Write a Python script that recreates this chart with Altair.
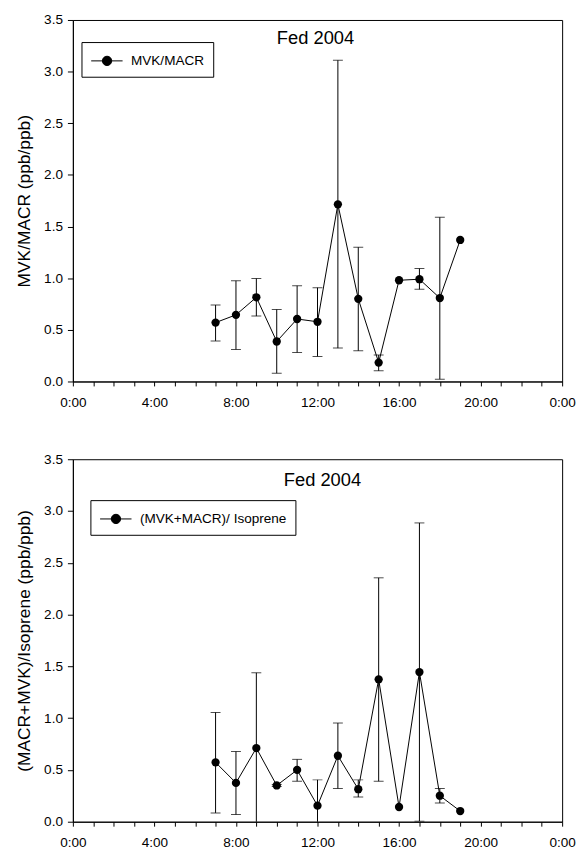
import altair as alt
import pandas as pd

hours = [7, 8, 9, 10, 11, 12, 13, 14, 15, 16, 17, 18, 19]

mvk_macr = [0.57, 0.645, 0.815, 0.387, 0.605, 0.578, 1.715, 0.80, 0.183, 0.98, 0.99, 0.808, 1.37]
mvk_macr_hi = [0.74, 0.975, 0.997, 0.697, 0.927, 0.908, 3.11, 1.30, 0.256, None, 1.093, 1.59, None]
mvk_macr_lo = [0.393, 0.31, 0.633, 0.08, 0.281, 0.243, 0.323, 0.297, 0.103, None, 0.892, 0.022, None]

iso_ratio = [0.573, 0.375, 0.711, 0.35, 0.50, 0.155, 0.637, 0.314, 1.375, 0.142, 1.445, 0.251, 0.103]
iso_ratio_hi = [1.055, 0.678, 1.438, 0.36, 0.602, 0.404, 0.953, 0.404, 2.355, None, 2.885, 0.321, None]
iso_ratio_lo = [0.085, 0.069, -0.016, 0.34, 0.391, -0.094, 0.321, 0.238, 0.391, None, 0.005, 0.18, None]

panel_title = "Fed 2004"
x_ticks = list(range(0, 25))
y_ticks = [0, 0.5, 1.0, 1.5, 2.0, 2.5, 3.0, 3.5]

FONT = "Liberation Sans"
NB = "\u00a0\u00a0"
# legend symbol: short line with a filled circle on it
SYMBOL = "M-0.92,0L2.25,0M1.15,0A0.47,0.47,0,1,1,0.21,0A0.47,0.47,0,1,1,1.15,0Z"


def panel(mean, hi, lo, series, ytitle, lx, ly, tdx, ty, h):
    df = pd.DataFrame({"hour": hours, "mean": mean, "hi": hi, "lo": lo, "series": series})
    xax = alt.Axis(values=x_ticks, title=None, grid=False, tickSize=4.5, labelPadding=9.5,
                   labelFlush=False,
                   labelExpr="datum.value % 4 == 0 ? '" + NB + "' + (datum.value % 24) + ':00' : ''")
    yax = alt.Axis(values=y_ticks, format=".1f", title=ytitle, grid=False, tickSize=5.5,
                   labelPadding=5, titlePadding=10.5)
    xs = alt.Scale(domain=[0, 24], nice=False, zero=False)
    ys = alt.Scale(domain=[0, 3.5], nice=False)

    def X(f="hour"):
        return alt.X(f + ":Q", scale=xs, axis=xax)

    def Y(f):
        return alt.Y(f + ":Q", scale=ys, axis=yax)

    base = alt.Chart(df)
    err = base.transform_filter("isValid(datum.hi)")
    bars = err.mark_rule(color="black", strokeWidth=1, clip=True).encode(
        x=X(), y=Y("lo"), y2="hi:Q")
    cap_hi = err.mark_tick(color="black", orient="horizontal", size=10, thickness=1,
                           clip=True).encode(x=X(), y=Y("hi"))
    cap_lo = err.mark_tick(color="black", orient="horizontal", size=10, thickness=1,
                           clip=True).encode(x=X(), y=Y("lo"))
    line = base.mark_line(color="black", strokeWidth=1).encode(x=X(), y=Y("mean"))
    pts = base.mark_point(filled=True, shape="circle", size=70, opacity=1).encode(
        x=X(), y=Y("mean"),
        color=alt.Color("series:N",
                        scale=alt.Scale(domain=[series], range=["black"]),
                        legend=alt.Legend(title=None, orient="none", legendX=lx, legendY=ly,
                                          strokeColor="black", fillColor="white", padding=8.5,
                                          symbolType=SYMBOL, symbolSize=400,
                                          symbolFillColor="black", symbolStrokeColor="black",
                                          symbolStrokeWidth=1, labelFont=FONT,
                                          labelFontSize=13.7, labelColor="black",
                                          labelOffset=20.5)))
    tdf = pd.DataFrame({"tx": [12], "ty": [ty], "label": [panel_title]})
    title = alt.Chart(tdf).mark_text(font=FONT, fontSize=18.5, color="black", dx=tdx,
                                     baseline="middle", align="center").encode(
        x=X("tx"), y=Y("ty"), text="label:N")
    return alt.layer(bars, cap_hi, cap_lo, line, pts, title).properties(width=494, height=h)


top = panel(mvk_macr, mvk_macr_hi, mvk_macr_lo, "MVK/MACR",
            "MVK/MACR (ppb/ppb)", 8.7, 22.3, -2, 3.325, 365)
bottom = panel(iso_ratio, iso_ratio_hi, iso_ratio_lo, "(MVK+MACR)/ Isoprene",
               "(MACR+MVK)/Isoprene (ppb/ppb)", 17.7, 41.3, 5, 3.30, 366)

chart = alt.vconcat(top, bottom, spacing=41.5).resolve_scale(
    color="independent").resolve_legend(color="independent").properties(
    padding={"left": 6.5, "top": 0, "right": 0, "bottom": 0}, background="white"
).configure_view(stroke="black", strokeWidth=1).configure_axis(
    domainColor="black", tickColor="black", labelColor="black", titleColor="black",
    labelFont=FONT, titleFont=FONT, labelFontSize=13.7, titleFontSize=17.5,
    titleFontWeight="normal", domainWidth=1, tickWidth=1
)

chart.save("out.html", embed_options={"renderer": "svg", "actions": False})
